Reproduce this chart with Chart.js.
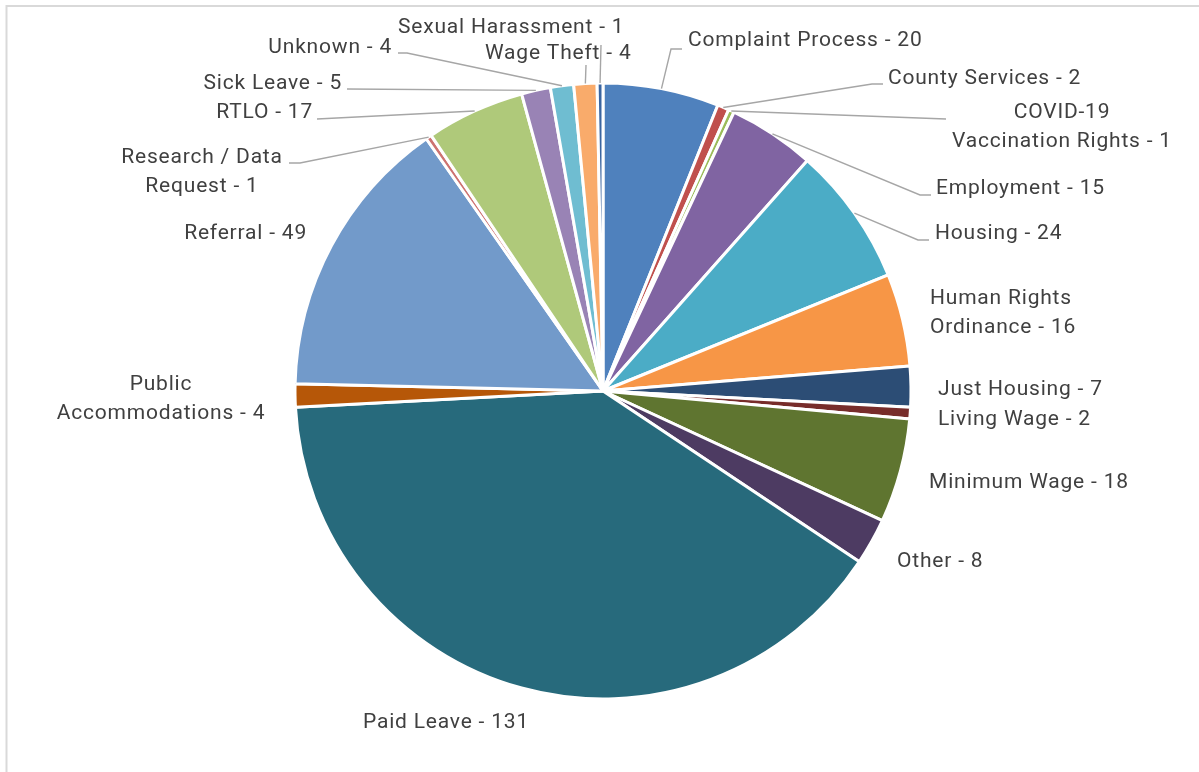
<!DOCTYPE html>
<html>
<head>
<meta charset="utf-8">
<title>Inquiries by Topic</title>
<script src="https://cdn.jsdelivr.net/npm/chart.js@4.4.1/dist/chart.umd.min.js"></script>
<style>
  html, body { margin: 0; padding: 0; background: #fff; }
  #wrap { width: 1199px; height: 772px; }
</style>
</head>
<body>
<div id="wrap"><canvas id="topicPie" width="1199" height="772"></canvas></div>
<script>
const categories = [
  "Complaint Process", "County Services", "COVID-19 Vaccination Rights", "Employment", "Housing",
  "Human Rights Ordinance", "Just Housing", "Living Wage", "Minimum Wage", "Other", "Paid Leave",
  "Public Accommodations", "Referral", "Research / Data Request", "RTLO", "Sick Leave", "Unknown",
  "Wage Theft", "Sexual Harassment"
];
const counts = [20, 2, 1, 15, 24, 16, 7, 2, 18, 8, 131, 4, 49, 1, 17, 5, 4, 4, 1];
const sliceColors = [
  "#4F81BD", "#C0504D", "#9BBB59", "#8064A2", "#4BACC6", "#F79646", "#2C4D75", "#772C2A",
  "#5F7530", "#4D3B62", "#276A7C", "#B65708", "#729ACA", "#CD7371", "#AFC97A", "#9983B5",
  "#6FBDD1", "#F9AB6B", "#3A65A0"
];

// where each label sits (x/y = centre of first text line), how many words go on line 1,
// and the bend points of its leader line (start point comes from the slice itself)
const labelLayout = [
  { x: 688, y: 39, align: "left", leader: [[671, 49], [682, 49]] },
  { x: 888, y: 77, align: "left", leader: [[872, 84], [883, 84]] },
  { x: 1062, y: 111, align: "center", firstLine: 1, leader: [[946, 119]] },
  { x: 936, y: 187, align: "left", leader: [[920, 195], [931, 195]] },
  { x: 935, y: 232, align: "left", leader: [[918, 240], [929, 240]] },
  { x: 930, y: 297, align: "left", firstLine: 2 },
  { x: 938, y: 388, align: "left" },
  { x: 938, y: 418, align: "left" },
  { x: 929, y: 481, align: "left" },
  { x: 897, y: 560, align: "left" },
  { x: 363, y: 721, align: "left" },
  { x: 161, y: 383, align: "center", firstLine: 1 },
  { x: 307, y: 232, align: "right" },
  { x: 202, y: 156, align: "center", firstLine: 3, leader: [[300, 163], [289, 163]] },
  { x: 313, y: 111, align: "right", leader: [[317, 119]] },
  { x: 342, y: 82, align: "right", leader: [[347, 89]] },
  { x: 392, y: 46, align: "right", leader: [[407, 53], [398, 53]] },
  { x: 485, y: 52, align: "left", leader: [[586, 65]] },
  { x: 398, y: 26, align: "left", leader: [[601, 45]] },
];

const FONT_SIZE = 21;
const LINE_HEIGHT = 28.5;

const outsideLabels = {
  id: "outsideLabels",
  beforeDraw(chart) {
    const ctx = chart.ctx;
    ctx.save();
    ctx.fillStyle = "#fff";
    ctx.fillRect(0, 0, chart.width, chart.height);
    // light frame, only the top and left edges are inside the picture
    ctx.strokeStyle = "#D9D9D9";
    ctx.lineWidth = 2;
    ctx.strokeRect(6.5, 6, chart.width + 20, chart.height + 20);
    ctx.restore();
  },
  afterDatasetsDraw(chart) {
    const ctx = chart.ctx;
    const meta = chart.getDatasetMeta(0);
    ctx.save();
    meta.data.forEach((arc, i) => {
      const spot = labelLayout[i];
      if (!spot) return;
      const mid = (arc.startAngle + arc.endAngle) / 2;
      const r = arc.outerRadius;

      if (spot.leader) {
        ctx.beginPath();
        ctx.moveTo(arc.x + Math.cos(mid) * r, arc.y + Math.sin(mid) * r);
        spot.leader.forEach(([lx, ly]) => ctx.lineTo(lx, ly));
        ctx.strokeStyle = "#A6A6A6";
        ctx.lineWidth = 1.4;
        ctx.stroke();
      }

      const words = `${categories[i]} - ${counts[i]}`.split(" ");
      const lines = spot.firstLine ? [words.slice(0, spot.firstLine).join(" "), words.slice(spot.firstLine).join(" ")] : [words.join(" ")];
      ctx.font = `${FONT_SIZE}px Roboto, "Noto Sans", sans-serif`;
      ctx.letterSpacing = "0.8px";
      ctx.fillStyle = "#404040";
      ctx.textAlign = spot.align;
      ctx.textBaseline = "alphabetic";
      lines.forEach((line, k) => {
        ctx.fillText(line, spot.x, spot.y + k * LINE_HEIGHT + FONT_SIZE * 0.355);
      });
    });
    ctx.restore();
  },
};

function renderTopicPie(canvasId) {
  const canvas = document.getElementById(canvasId);
  if (!canvas) {
    console.warn(`Canvas '${canvasId}' not found.`);
    return null;
  }
  const ctx = canvas.getContext("2d");

  const chartData = {
    labels: categories,
    datasets: [{ data: counts, backgroundColor: sliceColors, borderColor: "#fff", borderWidth: 3 }],
  };
  const chartOptions = {
    responsive: false,
    animation: false,
    radius: 308,
    layout: { padding: { left: 7, right: 0, top: 10, bottom: 0 } },
    plugins: { legend: { display: false }, tooltip: { enabled: false }, title: { display: false } },
  };

  return new Chart(ctx, { type: "pie", data: chartData, options: chartOptions, plugins: [outsideLabels] });
}

renderTopicPie("topicPie");
</script>
</body>
</html>
